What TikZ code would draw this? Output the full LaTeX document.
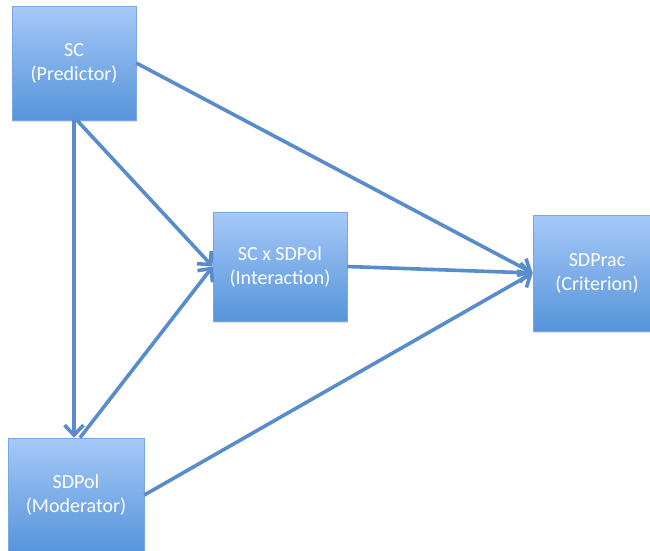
\documentclass[tikz,border=0pt]{standalone}
\usepackage{fontspec}
\setmainfont{Carlito}
\usepackage{xcolor}
\usepackage{tikz}
\usetikzlibrary{arrows.meta,positioning,shadows}
\definecolor{boxtop}{RGB}{166,201,248}
\definecolor{boxbot}{RGB}{86,148,218}
\definecolor{boxline}{RGB}{120,168,228}
\definecolor{linkblue}{RGB}{88,140,204}

\begin{document}
\begin{tikzpicture}[x=1pt, y=-1pt,
        varbox/.style={rectangle, draw=boxline, line width=0.6pt,
            top color=boxtop, bottom color=boxbot, text=white, align=center,
            font=\fontsize{20}{24}\selectfont,
            drop shadow={opacity=0.25, shadow xshift=1pt, shadow yshift=-2pt}},
        link/.style={draw=linkblue, line width=3.6pt,
            -{Straight Barb[length=10pt, width=19pt, line width=3.6pt]}}]
        \useasboundingbox (0,0) rectangle (650,550);
        
        % Variables
        \node[varbox, minimum width=124pt, minimum height=114pt] (sc) at (74,63) {SC\\(Predictor)};
        \node[varbox, minimum width=134pt, minimum height=109pt] (inter) at (280,266.5) {SC x SDPol\\(Interaction)};
        \node[varbox, minimum width=128pt, minimum height=116pt] (crit) at (597,273) {SDPrac\\(Criterion)};
        \node[varbox, minimum width=136pt, minimum height=114pt] (mod) at (76,495) {SDPol\\(Moderator)};
        
        % Paths from the predictor
        \draw[link] (sc.east) -- (crit.west);
        \draw[link] ([xshift=3pt]sc.south) -- (inter.west);
        \draw[link] (sc.south) -- (sc.south |- mod.north);
        
        % Paths from the moderator
        \draw[link] ([xshift=4pt]mod.north) -- (inter.west);
        \draw[link] (mod.east) -- (crit.west);
        
        % Interaction term
        \draw[link] (inter.east) -- (crit.west);
    \end{tikzpicture}
\end{document}
